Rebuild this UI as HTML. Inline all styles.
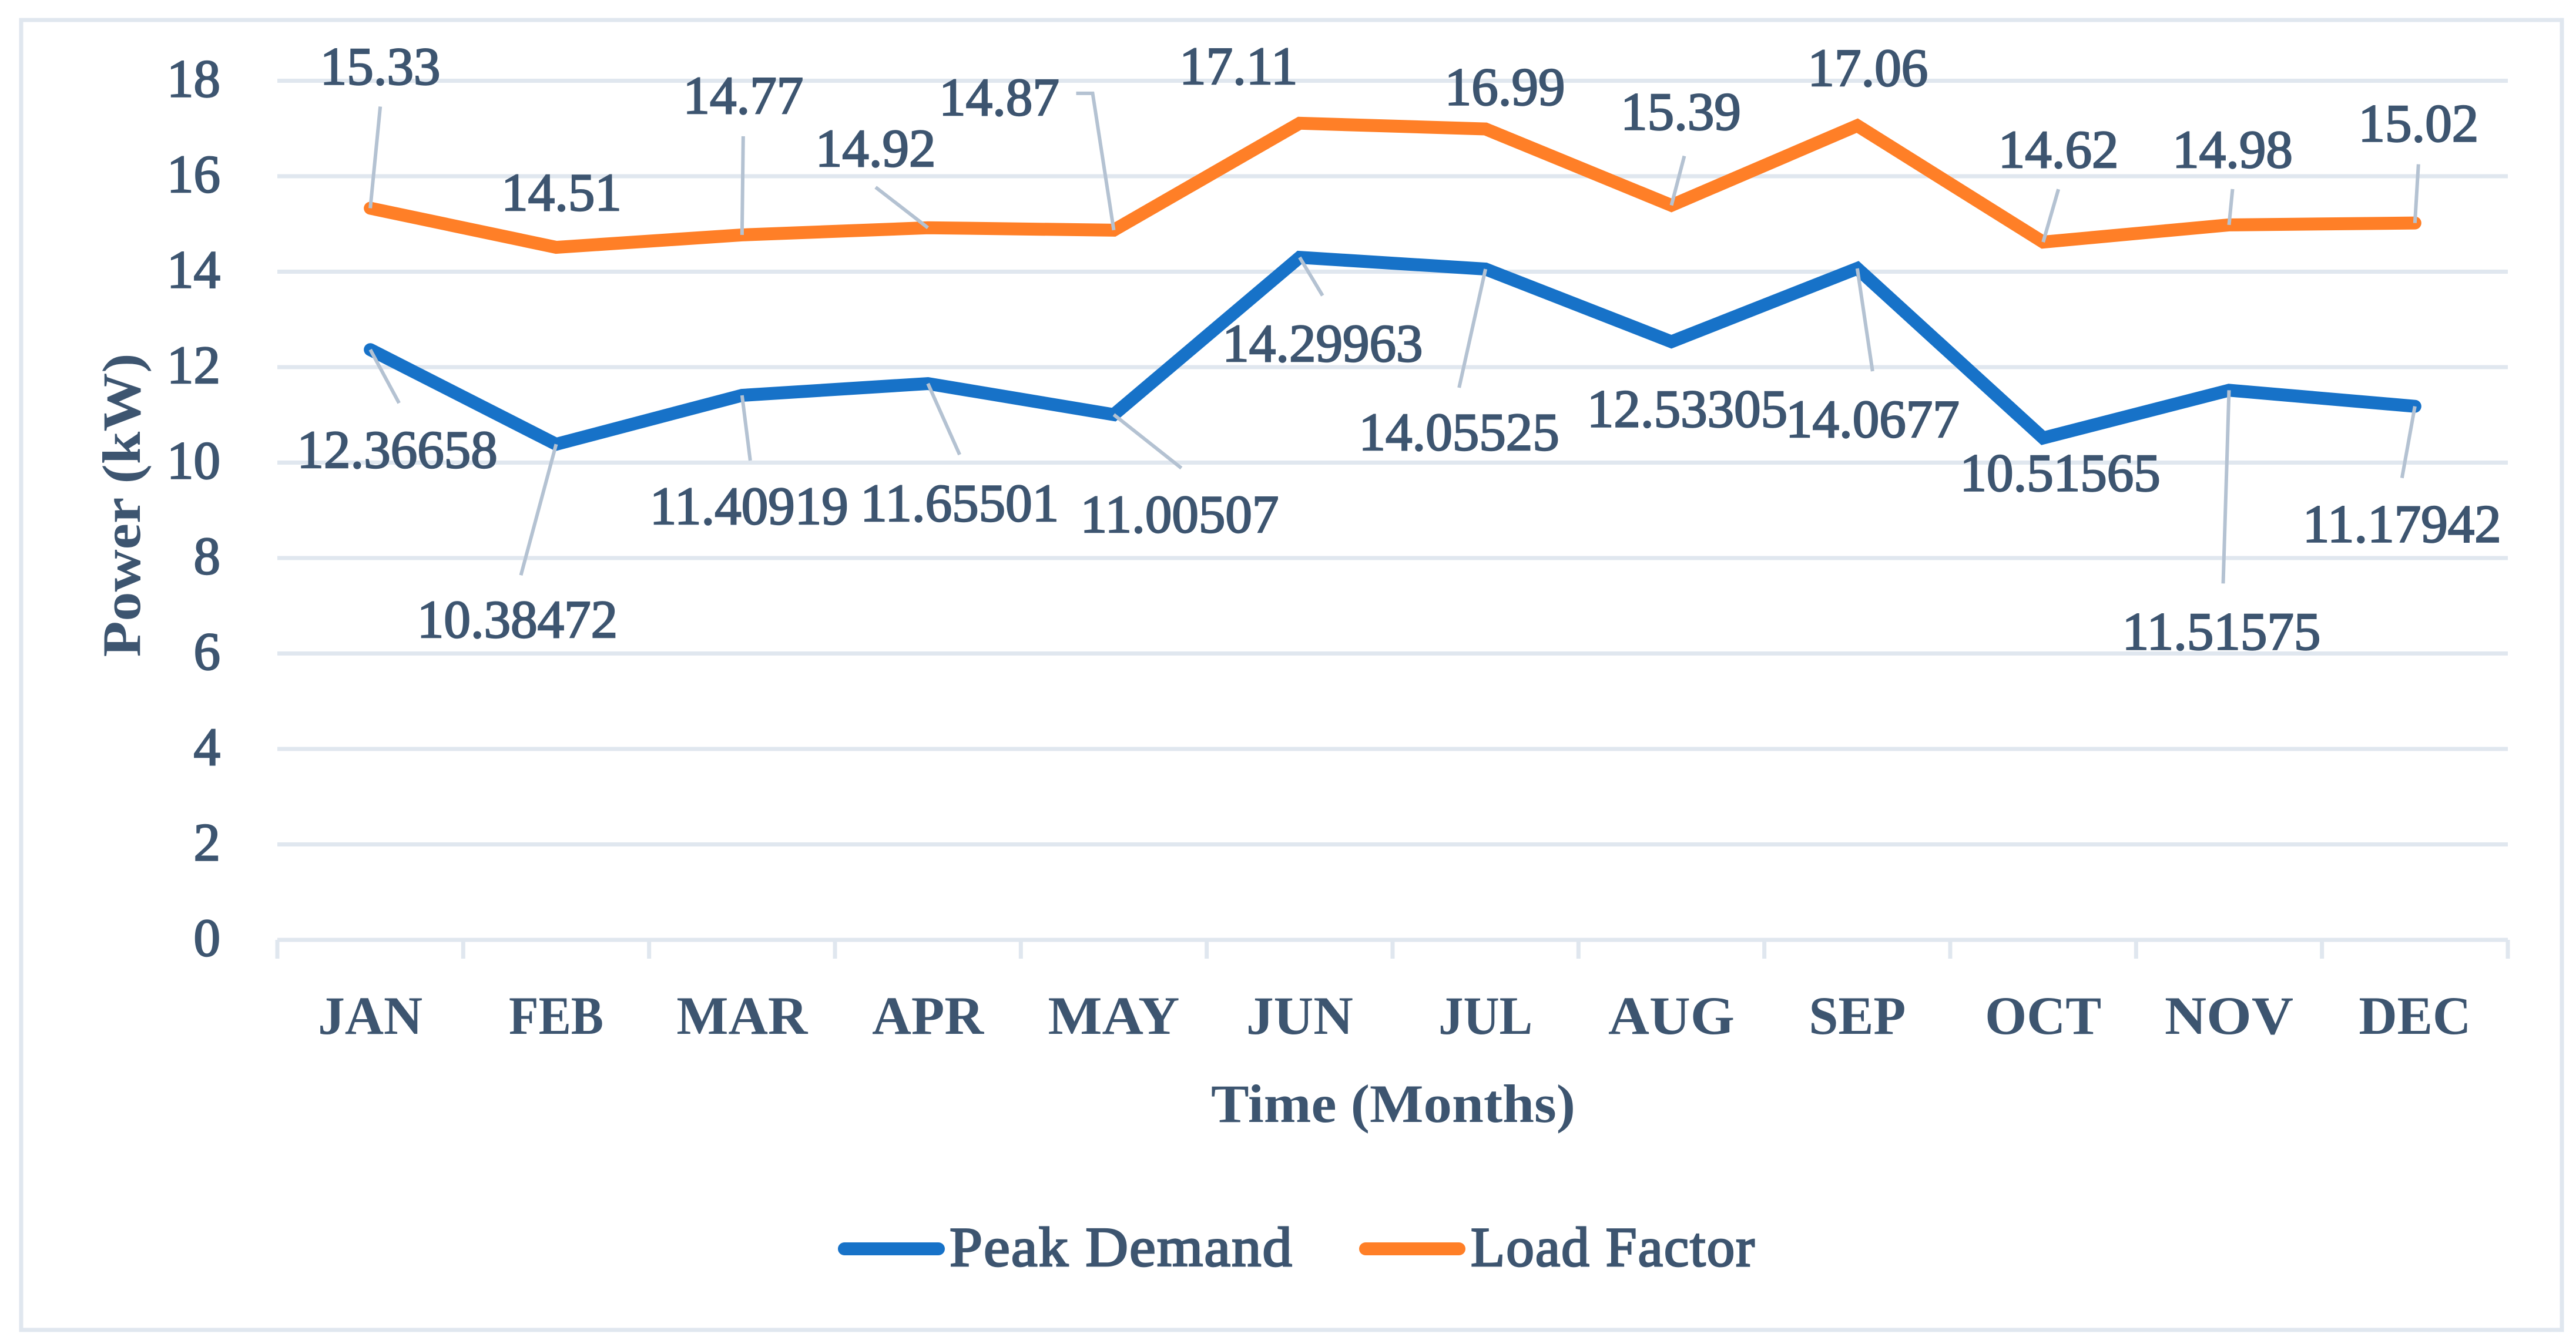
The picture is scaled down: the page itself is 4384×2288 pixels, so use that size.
<!DOCTYPE html>
<html lang="en">
<head>
<meta charset="utf-8">
<title>Peak Demand and Load Factor</title>
<style>
html,body{margin:0;padding:0;background:#fff;width:4384px;height:2288px;overflow:hidden}
svg{display:block}
text{font-family:"Liberation Serif",serif;fill:#3d5570}
.num{font-size:91px;stroke:#3d5570;stroke-width:2.4px}
.ax{font-size:92px;font-weight:700}
.leg{font-size:95px;stroke:#3d5570;stroke-width:2.8px;letter-spacing:2px}
</style>
</head>
<body>
<svg id="chart" xmlns="http://www.w3.org/2000/svg" width="4384" height="2288" viewBox="0 0 4384 2288">
  <rect x="36" y="34" width="4324" height="2230" fill="#fff" stroke="#e0e7ef" stroke-width="7"/>
  <g id="grid"></g>
  <g id="xaxis"></g>
  <g id="yaxis"></g>
  <g id="series"></g>
  <g id="leaders"></g>
  <g id="labels"></g>
  <text class="ax" x="2371" y="1910" text-anchor="middle" textLength="620" lengthAdjust="spacingAndGlyphs">Time (Months)</text>
  <text class="ax" transform="translate(238,860) rotate(-90)" text-anchor="middle" textLength="517" lengthAdjust="spacingAndGlyphs">Power (kW)</text>
  <g>
    <g>
      <line x1="1437" y1="2126" x2="1597" y2="2126" stroke="#1772c8" stroke-width="22" stroke-linecap="round"/>
      <text class="leg" x="1616" y="2155" textLength="585" lengthAdjust="spacingAndGlyphs">Peak Demand</text>
    </g>
    <g>
      <line x1="2324" y1="2126" x2="2483" y2="2126" stroke="#ff7f27" stroke-width="22" stroke-linecap="round"/>
      <text class="leg" x="2503" y="2155" textLength="485" lengthAdjust="spacingAndGlyphs">Load Factor</text>
    </g>
  </g>
</svg>
<script>
var months = ['JAN','FEB','MAR','APR','MAY','JUN','JUL','AUG','SEP','OCT','NOV','DEC'];
var yTicks = [0,2,4,6,8,10,12,14,16,18];
var peakDemand = [12.36658,10.38472,11.40919,11.65501,11.00507,14.29963,14.05525,12.53305,14.0677,10.51565,11.51575,11.17942];
var loadFactor = [15.33,14.51,14.77,14.92,14.87,17.11,16.99,15.39,17.06,14.62,14.98,15.02];

// Layout only: rendered width of each month label, matching the reference typeface
var monthLabelWidths = [178,161,223,190,224,182,160,215,165,198,219,191];
// Label placement relative to each data point: [labelDx, labelDy, leaderDx, leaderDy, elbowDx, elbowDy]
var peakOffsets = [[46,170,49,91],[-66,298,-60,223],[12,188,14,111],[54,203,54,121],[112,169,115,91],[39,146,39,65],[-45,277,-45,202],[27,114],[26,256,26,175],[29,59],[-13,410,-10,329],[-22,200,-22,122]];
var loadOffsets = [[17,-242,17,-173],[9,-94],[2,-238,2,-168],[-89,-136,-89,-69],[-195,-227,-64,-233,-36,-233],[-104,-98],[33,-72],[16,-160,22,-84],[18,-99],[26,-158,26,-90],[6,-129,6,-61],[6,-170,6,-100]];

var NS = 'http://www.w3.org/2000/svg';
var plotLeft = 472, plotRight = 4268, plotBottom = 1600, unitY = 81.25;
var band = (plotRight - plotLeft) / months.length;
function xPos(i){ return plotLeft + band * (i + 0.5); }
function yPos(v){ return plotBottom - v * unitY; }
function make(tag, parent, props){
  var el = document.createElementNS(NS, tag);
  for (var k in props) el.setAttribute(k, props[k]);
  document.getElementById(parent).appendChild(el);
  return el;
}

yTicks.forEach(function(t){
  var g = make('line', 'grid', {x1:plotLeft, x2:plotRight, y1:yPos(t), y2:yPos(t), stroke:'#e0e7ef', 'stroke-width':7});
  
  
  var l = make('text', 'yaxis', {x:375, y:yPos(t)+27, 'text-anchor':'end', 'class':'num'});
  l.textContent = String(t);
  
  
});

for (var b = 0; b <= months.length; b++) {
  var tx = plotLeft + band * b;
  var tick = make('line', 'xaxis', {x1:tx, x2:tx, y1:plotBottom, y2:1632, stroke:'#e0e7ef', 'stroke-width':7});
  
  
}
months.forEach(function(m, i){
  var l = make('text', 'xaxis', {x:xPos(i), y:1760, 'text-anchor':'middle', 'class':'ax', textLength:monthLabelWidths[i], lengthAdjust:'spacingAndGlyphs'});
  l.textContent = m;
  
  
});

function drawSeries(values, offsets, color, key){
  var pts = values.map(function(v, i){ return xPos(i) + ',' + yPos(v); }).join(' ');
  var line = make('polyline', 'series', {points:pts, fill:'none', stroke:color, 'stroke-width':22, 'stroke-linecap':'round', 'stroke-linejoin':'miter'});
  
  
  values.forEach(function(v, i){
    var o = offsets[i], px = xPos(i), py = yPos(v);
    if (o.length > 2) {
      var p = px + ',' + py;
      if (o.length > 4) p += ' ' + (px + o[4]) + ',' + (py + o[5]);
      p += ' ' + (px + o[2]) + ',' + (py + o[3]);
      var lead = make('polyline', 'leaders', {points:p, fill:'none', stroke:'#b4c2d2', 'stroke-width':6});
      
      
    }
    var t = make('text', 'labels', {x:px + o[0], y:py + o[1] + 31, 'text-anchor':'middle', 'class':'num'});
    t.textContent = String(v);
    
    
  });
}
drawSeries(peakDemand, peakOffsets, '#1772c8', 'peak-demand');
drawSeries(loadFactor, loadOffsets, '#ff7f27', 'load-factor');
</script>
</body>
</html>
